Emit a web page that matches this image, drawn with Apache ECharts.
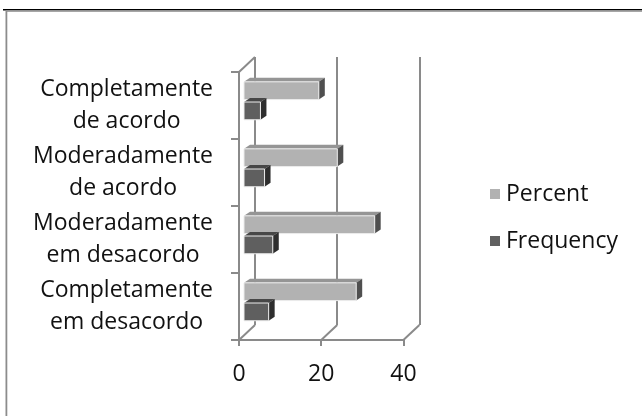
<!DOCTYPE html>
<html><head><meta charset="utf-8">
<script src="https://cdn.jsdelivr.net/npm/echarts@6/dist/echarts.min.js"></script>
<style>html,body{margin:0;padding:0;background:#fff}#c{width:642px;height:416px}</style>
</head><body><div id="c"></div>
<script>
// Data (bottom to top along the category axis)
const categories = ['Completamente em desacordo', 'Moderadamente em desacordo', 'Moderadamente de acordo', 'Completamente de acordo'];
const percentValues = [27.3, 31.8, 22.7, 18.2];
const frequencyValues = [6, 7, 5, 4];
const seriesNames = ['Percent', 'Frequency'];
const xTicks = [0, 20, 40];

const FONT = '"Open Sans", sans-serif';
const LINE = '#8a8a8a';
const DEPTH_X = 16, DEPTH_Y = 15;

function bar3D(slot, front, top, side) {
  return function (params, api) {
    const cat = api.value(0), val = api.value(1);
    const p0 = api.coord([0, cat]);
    const p1 = api.coord([val, cat]);
    const band = api.size([0, 1])[1];
    const barH = band * 0.265, gap = band * 0.036;
    const sx = 5, sy = -4.7;
    const c = p0[1] + sy;
    const yT = slot === 0 ? c - gap / 2 - barH : c + gap / 2;
    const x0 = p0[0] + sx, x1 = p1[0] + sx;
    const dx = 6, dy = 4;
    return {
      type: 'group', children: [
        { type: 'polygon', shape: { points: [[x0, yT], [x1, yT], [x1 + dx, yT - dy], [x0 + dx, yT - dy]] }, style: { fill: top } },
        { type: 'polygon', shape: { points: [[x1, yT], [x1 + dx, yT - dy], [x1 + dx, yT + barH - dy], [x1, yT + barH]] }, style: { fill: side } },
        { type: 'rect', shape: { x: x0, y: yT, width: x1 - x0, height: barH }, style: { fill: front, stroke: '#ececec', lineWidth: 1 } }
      ]
    };
  };
}

function frame(params, api) {
  const cs = params.coordSys;
  const p = api.coord([api.value(0), 0]);
  const yb = cs.y + cs.height;
  const children = [
    { type: 'line', shape: { x1: p[0], y1: yb, x2: p[0] + DEPTH_X, y2: yb - DEPTH_Y }, style: { stroke: LINE, lineWidth: 2 } }
  ];
  if (params.dataIndex === 0) {
    children.push({ type: 'line', shape: { x1: cs.x, y1: cs.y, x2: cs.x + DEPTH_X, y2: cs.y - DEPTH_Y }, style: { stroke: LINE, lineWidth: 2 } });
  }
  return { type: 'group', children: children };
}

const chart = echarts.init(document.getElementById('c'));
chart.setOption({
  animation: false,
  backgroundColor: '#fff',
  graphic: [
    { type: 'rect', shape: { x: 3, y: 9, width: 639, height: 1.5 }, style: { fill: '#000' } },
    { type: 'rect', shape: { x: 6, y: 10.5, width: 636, height: 1.5 }, style: { fill: '#a6a6a6' } },
    { type: 'rect', shape: { x: 5.5, y: 10.5, width: 1.8, height: 406 }, style: { fill: '#8c8c8c' } }
  ],
  grid: [
    { left: 239, top: 72, width: 164.4, height: 268 },
    { left: 239 + DEPTH_X, top: 72 - DEPTH_Y, width: 164.4, height: 268 }
  ],
  legend: {
    orient: 'vertical', left: 485, top: 177, itemWidth: 10, itemHeight: 10, itemGap: 23,
    textStyle: { fontFamily: FONT, fontSize: 23, color: '#111', lineHeight: 24, padding: [0, 0, 0, 1] },
    data: [
      { name: seriesNames[0], icon: 'rect', itemStyle: { color: '#b2b2b2' } },
      { name: seriesNames[1], icon: 'rect', itemStyle: { color: '#606060' } }
    ]
  },
  xAxis: [
    {
      gridIndex: 0, type: 'value', min: 0, max: 40, interval: 20,
      axisLine: { show: true, lineStyle: { color: LINE, width: 2 } },
      axisTick: { show: true, length: 6, lineStyle: { color: LINE, width: 2 } },
      axisLabel: { margin: 23, fontFamily: FONT, fontSize: 23, color: '#111' },
      splitLine: { show: false }
    },
    {
      gridIndex: 1, type: 'value', min: 0, max: 40, interval: 20,
      axisLine: { show: false }, axisTick: { show: false }, axisLabel: { show: false },
      splitLine: { show: true, lineStyle: { color: LINE, width: 2 } }
    }
  ],
  yAxis: [
    {
      gridIndex: 0, type: 'category', data: categories,
      axisLine: { show: true, lineStyle: { color: LINE, width: 2 } },
      axisTick: { show: true, length: 8, lineStyle: { color: LINE, width: 2 } },
      axisLabel: {
        interval: 0, margin: 26, fontFamily: FONT, fontSize: 23, color: '#111',
        formatter: function (v) {
          const i = v.indexOf(' ');
          return '{c|' + v.slice(0, i) + '}\n{c|' + v.slice(i + 1) + '}';
        },
        rich: { c: { align: 'center', fontFamily: FONT, fontSize: 23, color: '#111', lineHeight: 31.5 } }
      },
      splitLine: { show: false }
    },
    { gridIndex: 1, type: 'category', data: categories, show: false }
  ],
  series: [
    {
      name: 'frame', type: 'custom', xAxisIndex: 0, yAxisIndex: 0, silent: true,
      data: xTicks.map(v => [v, 0]), encode: { x: 0, y: 1 }, renderItem: frame, z: 1
    },
    {
      name: seriesNames[0], type: 'custom', xAxisIndex: 0, yAxisIndex: 0,
      itemStyle: { color: '#b2b2b2' },
      data: percentValues.map((v, i) => [i, v]), encode: { y: 0, x: 1 },
      renderItem: bar3D(0, '#b2b2b2', '#959595', '#4f4f4f')
    },
    {
      name: seriesNames[1], type: 'custom', xAxisIndex: 0, yAxisIndex: 0,
      itemStyle: { color: '#606060' },
      data: frequencyValues.map((v, i) => [i, v]), encode: { y: 0, x: 1 },
      renderItem: bar3D(1, '#5f5f5f', '#474747', '#2e2e2e')
    }
  ]
});
</script>
</body></html>
